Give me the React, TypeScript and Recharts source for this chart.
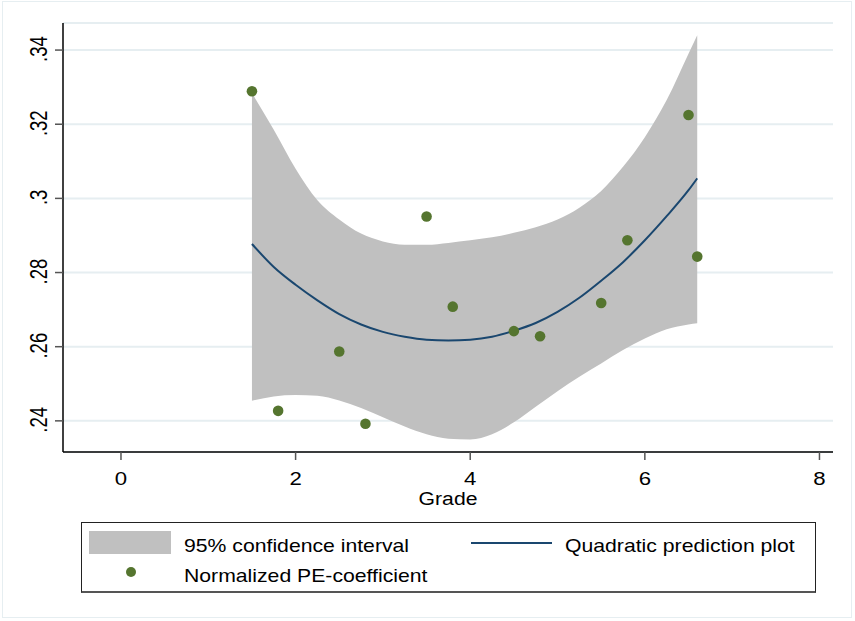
import { ComposedChart, Area, Line, Scatter, XAxis, YAxis, CartesianGrid, Label } from "recharts";

// fitted curve and 95% band
const gradeGrid = [1.5, 1.75, 2.0, 2.25, 2.5, 2.75, 3.0, 3.25, 3.5, 3.75, 4.0, 4.25, 4.5, 4.75, 5.0, 5.25, 5.5, 5.75, 6.0, 6.25, 6.5, 6.6];
const ciUpper = [0.3284, 0.3185, 0.308, 0.2995, 0.2943, 0.2905, 0.2884, 0.2875, 0.2875, 0.288, 0.2887, 0.2895, 0.2907, 0.2922, 0.2943, 0.2975, 0.302, 0.3085, 0.3165, 0.3265, 0.339, 0.344];
const ciLower = [0.2454, 0.2466, 0.247, 0.2468, 0.2455, 0.2435, 0.241, 0.2385, 0.2364, 0.2352, 0.235, 0.2364, 0.2396, 0.2438, 0.248, 0.2519, 0.2555, 0.2591, 0.2622, 0.2647, 0.266, 0.2663];
const fitValues = [0.2877, 0.2815, 0.2767, 0.2725, 0.2688, 0.266, 0.264, 0.2627, 0.2619, 0.2617, 0.2619, 0.2627, 0.2643, 0.2664, 0.2694, 0.2732, 0.2778, 0.2828, 0.2887, 0.2952, 0.3022, 0.3054];

// observed coefficients
const pointGrades = [1.5, 1.8, 2.5, 2.8, 3.5, 3.8, 4.5, 4.8, 5.5, 5.8, 6.5, 6.6];
const pointValues = [0.3289, 0.2427, 0.2587, 0.2392, 0.2951, 0.2708, 0.2642, 0.2628, 0.2718, 0.2887, 0.3225, 0.2843];

const xTicks = [0, 2, 4, 6, 8];
const yTicks = [0.24, 0.26, 0.28, 0.3, 0.32, 0.34];

const bandRows = gradeGrid.map((grade, i) => ({
  grade,
  ci: [ciLower[i], ciUpper[i]],
  fit: fitValues[i],
}));
const points = pointGrades.map((grade, i) => ({ grade, value: pointValues[i] }));

const FONT = "'Liberation Sans', Arial, sans-serif";
const NAVY = "#1a476f";
const GREEN = "#55752f";
const BAND = "#c0c0c0";

const fmtY = (v: number) => String(Number(v.toFixed(2))).replace(/^0\./, ".");

const YTick = (props: any) => {
  const { y, payload } = props;
  return (
    <text
      transform={`translate(46.5, ${y - 1}) scale(1.25, 1) rotate(-90)`}
      textAnchor="middle"
      fontFamily={FONT}
      fontSize={18.5}
      fill="#000"
    >
      {fmtY(payload.value)}
    </text>
  );
};

const XTick = (props: any) => {
  const { x, payload } = props;
  return (
    <text
      transform={`translate(${x}, 485) scale(1.2, 1)`}
      textAnchor="middle"
      fontFamily={FONT}
      fontSize={18.5}
      fill="#000"
    >
      {payload.value}
    </text>
  );
};

const GradeLabel = ({ viewBox }: any) => (
  <text
    transform={`translate(${viewBox.x + viewBox.width / 2}, 505) scale(1.19, 1)`}
    textAnchor="middle"
    fontFamily={FONT}
    fontSize={17.8}
    fill="#000"
  >
    Grade
  </text>
);

const Dot = (props: any) => <circle cx={props.cx} cy={props.cy} r={5.3} fill={GREEN} />;

const legendText: React.CSSProperties = {
  position: "absolute",
  fontFamily: FONT,
  fontSize: 18.6,
  lineHeight: 1,
  color: "#000",
  whiteSpace: "nowrap",
  transform: "scaleX(1.14)",
  transformOrigin: "left bottom",
};

const App = () => {
  return (
    <div style={{ position: "relative", width: 855, height: 621, background: "#fff" }}>
      <style>{"body{margin:0}"}</style>
      <div
        style={{
          position: "absolute",
          left: 2,
          top: 1,
          width: 850,
          height: 617,
          border: "1.5px solid #e6eef1",
          boxSizing: "border-box",
        }}
      />
      <div style={{ position: "absolute", left: 0, top: 0 }}>
        <ComposedChart width={855} height={621} data={bandRows} margin={{ top: 23, right: 22, left: 0, bottom: 109 }}>
          <CartesianGrid horizontal vertical={false} stroke="#e6eef1" strokeWidth={2} />
          <XAxis
            type="number"
            dataKey="grade"
            domain={[-0.664, 8.155]}
            ticks={xTicks}
            allowDataOverflow
            height={60}
            tickSize={8}
            tickMargin={0}
            tick={<XTick />}
            axisLine={{ stroke: "#000", strokeWidth: 1.5 }}
            tickLine={{ stroke: "#555", strokeWidth: 1.5 }}
          >
            <Label content={<GradeLabel />} />
          </XAxis>
          <YAxis
            type="number"
            domain={[0.2316, 0.3473]}
            ticks={yTicks}
            allowDataOverflow
            width={63}
            tickSize={8}
            tick={<YTick />}
            axisLine={{ stroke: "#000", strokeWidth: 1.5 }}
            tickLine={{ stroke: "#555", strokeWidth: 1.5 }}
          />
          <Area
            type="monotone"
            dataKey="ci"
            fill={BAND}
            fillOpacity={1}
            stroke="none"
            isAnimationActive={false}
          />
          <Line
            type="monotone"
            dataKey="fit"
            stroke={NAVY}
            strokeWidth={2}
            dot={false}
            isAnimationActive={false}
          />
          <Scatter data={points} dataKey="value" shape={<Dot />} isAnimationActive={false} />
        </ComposedChart>
      </div>

      {/* legend box */}
      <div
        style={{
          position: "absolute",
          left: 81,
          top: 522,
          width: 735,
          height: 71,
          border: "1px solid #222",
          borderBottom: "2px solid #555",
          boxSizing: "border-box",
        }}
      />
      <div style={{ position: "absolute", left: 89, top: 531, width: 82, height: 23, background: BAND }} />
      <div style={{ ...legendText, left: 184, top: 537 }}>95% confidence interval</div>
      <div style={{ position: "absolute", left: 471, top: 541.5, width: 81, height: 2, background: NAVY }} />
      <div style={{ ...legendText, left: 565, top: 537 }}>Quadratic prediction plot</div>
      <div
        style={{
          position: "absolute",
          left: 125.5,
          top: 566.8,
          width: 10.4,
          height: 10.4,
          borderRadius: "50%",
          background: GREEN,
        }}
      />
      <div style={{ ...legendText, left: 184, top: 566.5 }}>Normalized PE-coefficient</div>
    </div>
  );
};

export default App;
